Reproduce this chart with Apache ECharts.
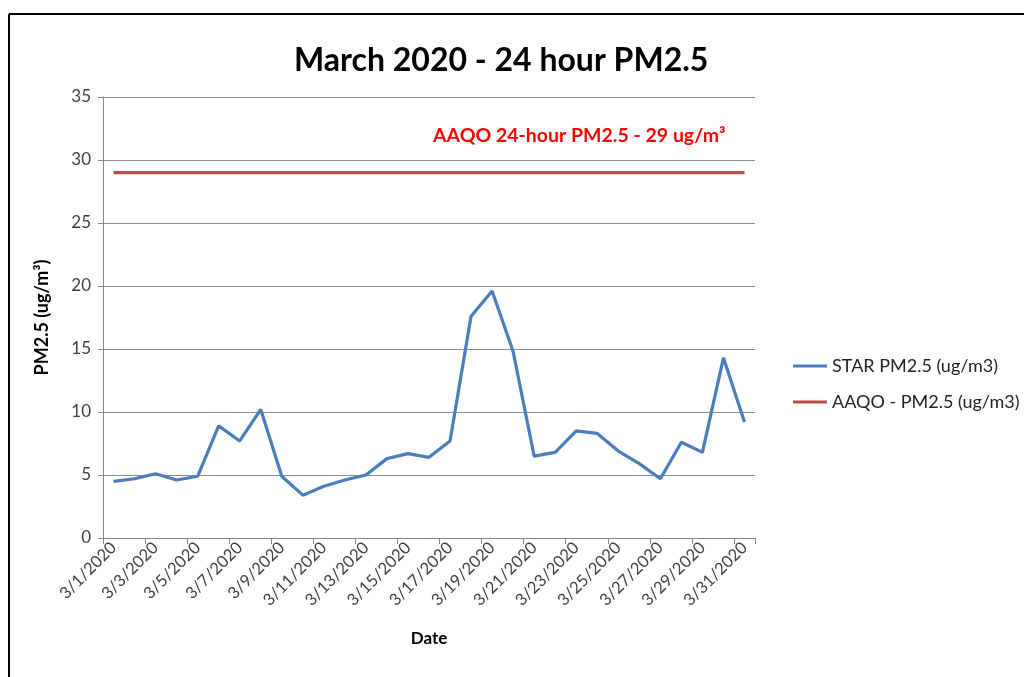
<!DOCTYPE html>
<html>
<head>
<meta charset="utf-8">
<script src="https://cdn.jsdelivr.net/npm/echarts@6/dist/echarts.min.js"></script>
<style>
html,body{margin:0;padding:0;background:#fff;}
#chart{width:1024px;height:677px;}
</style>
</head>
<body>
<div id="chart"></div>
<script>
const categories = ['3/1/2020','3/2/2020','3/3/2020','3/4/2020','3/5/2020','3/6/2020','3/7/2020','3/8/2020','3/9/2020','3/10/2020','3/11/2020','3/12/2020','3/13/2020','3/14/2020','3/15/2020','3/16/2020','3/17/2020','3/18/2020','3/19/2020','3/20/2020','3/21/2020','3/22/2020','3/23/2020','3/24/2020','3/25/2020','3/26/2020','3/27/2020','3/28/2020','3/29/2020','3/30/2020','3/31/2020'];
const starPM25 = [4.5,4.7,5.1,4.6,4.9,8.9,7.7,10.2,4.9,3.4,4.1,4.6,5.0,6.3,6.7,6.4,7.7,17.6,19.6,14.8,6.5,6.8,8.5,8.3,6.9,5.9,4.7,7.6,6.8,14.3,9.2];
const aaqoPM25 = [29,29,29,29,29,29,29,29,29,29,29,29,29,29,29,29,29,29,29,29,29,29,29,29,29,29,29,29,29,29,29];
const seriesNames = ['STAR PM2.5 (ug/m3)', 'AAQO - PM2.5 (ug/m3)'];
const titleText = 'March 2020 - 24 hour PM2.5';
const annotationText = 'AAQO 24-hour PM2.5 - 29 ug/m\u00b3';
const yAxisName = 'PM2.5 (ug/m\u00b3)';
const xAxisName = 'Date';

const font = 'Lato, "Open Sans", sans-serif';
const chart = echarts.init(document.getElementById('chart'));
chart.setOption({
  animation: false,
  backgroundColor: '#fff',
  title: {
    text: titleText,
    left: 289, top: 40,
    textStyle: {fontFamily: font, fontSize: 32, fontWeight: 'bold', color: '#000'}
  },
  graphic: [
    {type: 'line', shape: {x1: 9, y1: 14, x2: 1024, y2: 14}, style: {stroke: '#000', lineWidth: 2}},
    {type: 'line', shape: {x1: 9, y1: 14, x2: 9, y2: 677}, style: {stroke: '#000', lineWidth: 2}},
    {type: 'text', left: 433, top: 126, style: {text: annotationText, fill: '#ff0000', font: 'bold 19.5px Lato, "Open Sans", sans-serif'}}
  ],
  legend: {
    orient: 'vertical',
    left: 788, top: 352,
    itemWidth: 34, itemHeight: 3, itemGap: 18,
    icon: 'rect',
    textStyle: {fontFamily: font, fontSize: 18, color: '#222'},
    data: seriesNames
  },
  grid: {left: 103, right: 269, top: 97, bottom: 139, containLabel: false},
  xAxis: {
    type: 'category',
    data: categories,
    boundaryGap: true,
    name: xAxisName,
    nameLocation: 'middle',
    nameGap: 92,
    nameTextStyle: {fontFamily: font, fontSize: 17, fontWeight: 'bold', color: '#000'},
    axisLine: {lineStyle: {color: '#868686', width: 1}},
    axisTick: {show: true, interval: 1, length: 6, lineStyle: {color: '#868686'}},
    axisLabel: {interval: 1, rotate: 45, fontFamily: font, fontSize: 16.5, color: '#404040', margin: 7}
  },
  yAxis: {
    type: 'value',
    min: 0, max: 35, interval: 5,
    name: yAxisName,
    nameLocation: 'middle',
    nameGap: 52,
    nameRotate: 90,
    nameTextStyle: {fontFamily: font, fontSize: 18, fontWeight: 'bold', color: '#000'},
    axisLine: {show: true, lineStyle: {color: '#868686', width: 1}},
    axisTick: {show: true, length: 5, lineStyle: {color: '#868686'}},
    axisLabel: {fontFamily: font, fontSize: 17, color: '#404040', margin: 12},
    splitLine: {show: true, lineStyle: {color: '#8c8c8c', width: 1}}
  },
  series: [
    {
      name: seriesNames[0], type: 'line', data: starPM25,
      showSymbol: false, symbol: 'none',
      lineStyle: {color: '#4a7ebb', width: 3.2},
      itemStyle: {color: '#4a7ebb'}
    },
    {
      name: seriesNames[1], type: 'line', data: aaqoPM25,
      showSymbol: false, symbol: 'none',
      lineStyle: {color: '#be4b48', width: 3.2},
      itemStyle: {color: '#be4b48'}
    }
  ]
});
</script>
</body>
</html>
